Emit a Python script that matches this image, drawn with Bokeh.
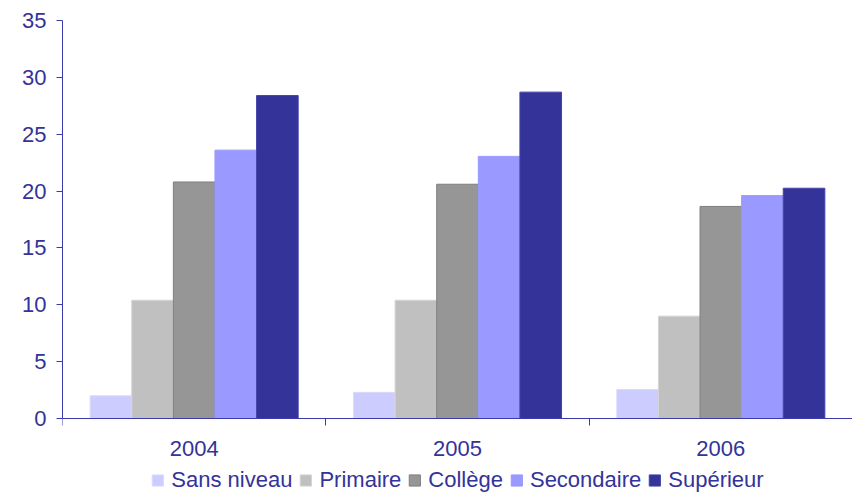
from bokeh.plotting import figure
from bokeh.models import (Range1d, FixedTicker, ColumnDataSource, Legend, LegendItem,
                          LinearAxis)
from bokeh.transform import dodge
from bokeh.embed import file_html
from bokeh.resources import INLINE
import numpy as np

years = ["2004", "2005", "2006"]
levels = ["Sans niveau", "Primaire", "Collège", "Secondaire", "Supérieur"]
sans_niveau = [2.0, 2.3, 2.55]
primaire = [10.4, 10.4, 9.0]
college = [20.8, 20.6, 18.65]
secondaire = [23.6, 23.05, 19.6]
superieur = [28.4, 28.7, 20.25]
y_ticks = [0, 5, 10, 15, 20, 25, 30, 35]

series = [sans_niveau, primaire, college, secondaire, superieur]
fills = ["#CCCCFF", "#C0C0C0", "#969696", "#9999FF", "#333399"]
lines = ["#DADAFF", "#D4D4D4", "#7F7F7F", "#9999FF", "#4444AA"]
offsets = [-0.316, -0.158, 0.0, 0.158, 0.316]
bar_w = 0.158

FONT = "Liberation Sans"
FS = "22px"
TXT = "#333399"
AX = "#3A3AAA"

W, H = 852, 493
TOP = 20            # px from top to the value 35
ZERO_PX = 418       # px from top to the value 0
Y_MAX = 35
px_per_unit = (ZERO_PX - TOP) / Y_MAX
y_bottom = -(H - ZERO_PX) / px_per_unit   # extra room under 0 for labels and legend

data = {"x": np.arange(len(years)) + 0.5}
for i, s in enumerate(series):
    data[f"s{i}"] = s
src = ColumnDataSource(data)

p = figure(width=W, height=H, output_backend="svg", toolbar_location=None,
           x_range=Range1d(0, len(years)), y_range=Range1d(y_bottom, Y_MAX),
           x_axis_type=None, y_axis_type=None,
           min_border_left=62, min_border_right=0, min_border_top=TOP,
           min_border_bottom=0)
p.outline_line_color = None
p.xgrid.visible = False
p.ygrid.visible = False
p.background_fill_color = "white"
p.border_fill_color = "white"

renderers = []
for i, (f, lc, off) in enumerate(zip(fills, lines, offsets)):
    r = p.vbar(x=dodge("x", off, range=p.x_range), top=f"s{i}", bottom=0, width=bar_w,
               source=src, fill_color=f, line_color=lc, line_width=1)
    renderers.append(r)

# y axis (only drawn from 0 to 35)
yax = LinearAxis(ticker=FixedTicker(ticks=y_ticks), bounds=(0, Y_MAX))
yax.axis_line_color = AX
yax.major_tick_line_color = AX
yax.major_tick_out = 6
yax.major_tick_in = 0
yax.minor_tick_line_color = None
yax.major_label_standoff = 10
yax.major_label_text_font = FONT
yax.major_label_text_font_size = FS
yax.major_label_text_color = TXT
p.add_layout(yax, "left")

# x axis at y = 0: labels at category centres, ticks at boundaries
centers = list(np.arange(len(years)) + 0.5)
bounds = list(range(len(years) + 1))
xax = LinearAxis(ticker=FixedTicker(ticks=centers, minor_ticks=bounds), fixed_location=0)
xax.major_label_overrides = {float(c): y for c, y in zip(centers, years)}
xax.axis_line_color = AX
xax.major_tick_line_color = None
xax.major_tick_out = 0
xax.major_tick_in = 0
xax.minor_tick_line_color = AX
xax.minor_tick_out = 7
xax.minor_tick_in = 0
xax.major_label_standoff = 15
xax.major_label_text_font = FONT
xax.major_label_text_font_size = FS
xax.major_label_text_color = TXT
p.add_layout(xax, "below")

legend = Legend(items=[LegendItem(label=l, renderers=[r]) for l, r in zip(levels, renderers)],
                orientation="horizontal", location="bottom_center")
legend.label_text_font = FONT
legend.label_text_font_size = FS
legend.label_text_color = TXT
legend.glyph_width = 14
legend.glyph_height = 14
legend.label_standoff = 7
legend.spacing = 6
legend.padding = 0
legend.margin = 0
legend.border_line_color = None
legend.background_fill_alpha = 0
p.add_layout(legend, "center")

open("out.html", "w").write(file_html(p, INLINE))
